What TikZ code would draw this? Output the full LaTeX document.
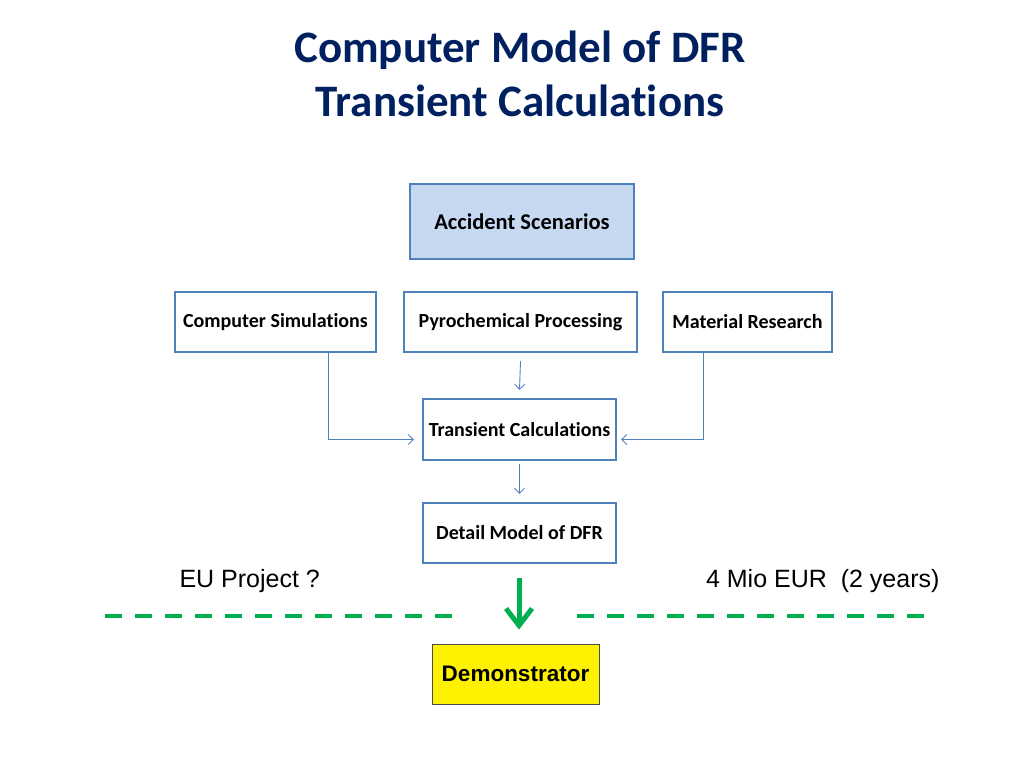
\documentclass[tikz,border=0pt]{standalone}
\usepackage{fontspec}
\setmainfont{Carlito}[Ligatures=NoCommon]
\newfontfamily\arialfont{Liberation Sans}
\usetikzlibrary{positioning, arrows.meta}
\definecolor{titleblue}{HTML}{002060}
\definecolor{boxblue}{HTML}{4F81BD}
\definecolor{boxfill}{HTML}{C6D9F1}
\definecolor{dfrgreen}{HTML}{00B050}
\tikzset{
	x=1pt, y=-1pt,
	>={Straight Barb[length=5pt, width=10pt]},
	block/.style={draw=boxblue, line width=2.2pt, fill=white, inner sep=0pt,
		minimum height=60pt, font=\bfseries\fontsize{20}{22}\selectfont},
	flow/.style={->, draw=boxblue, line width=0.9pt},
	bigflow/.style={-{Straight Barb[length=17pt, width=26pt]}, draw=dfrgreen, line width=5pt},
	gdash/.style={draw=dfrgreen, line width=4pt, dash pattern=on 17pt off 13pt},
	note/.style={font=\arialfont\fontsize{25}{28}\selectfont}}

\begin{document}
\begin{tikzpicture}
		\useasboundingbox (0,0) rectangle (1024,768);
		% title
		\node[text=titleblue, font=\bfseries\fontsize{45}{54}\selectfont, align=center] (title) at (520,74) {Computer Model of DFR\\Transient Calculations};
		
		\node[block, fill=boxfill, minimum width=224pt, minimum height=75pt, font=\bfseries\fontsize{22.5}{24}\selectfont] (scen) at (522,221.5) {Accident Scenarios};
		\node[block, minimum width=201pt] (sim) at (275.5,322) {Computer Simulations};
		\node[block, minimum width=233pt] (pyro) at (520.5,322) {Pyrochemical Processing};
		\node[block, minimum width=169pt] (mat) at (747.5,322) {Material Research};
		\node[block, minimum width=193pt, minimum height=61pt] (trans) at (519.5,429.5) {Transient Calculations};
		\node[block, minimum width=193pt] (detail) at (519.5,533) {Detail Model of DFR};
		\node[draw=black!70, line width=0.8pt, fill=yellow, inner sep=0pt, minimum width=167pt, minimum height=60pt,
			font=\arialfont\bfseries\fontsize{22.5}{26}\selectfont] (demo) at (515.5,674) {Demonstrator};
		
		\node[note, anchor=west] (eu) at (176,581) {EU Project ?};
		\node[note, anchor=east] (cost) at (943,581) {4 Mio EUR\ \ (2 years)};
		
		\draw[flow] ([yshift=-8pt]pyro.south) -- ([yshift=8pt]trans.north);
		\draw[flow] ([xshift=52.5pt]sim.south) |- ([xshift=-8pt,yshift=-10pt]trans.west);
		\draw[flow] ([xshift=-44.5pt]mat.south) |- ([xshift=4pt,yshift=-10pt]trans.east);
		\draw[flow] ([yshift=-3pt]trans.south) -- ([yshift=8pt]detail.north);
		\draw[bigflow] ([yshift=-14pt,xshift=-0.5pt]detail.south) -- ([yshift=14pt,xshift=3.5pt]demo.north);
		
		\draw[gdash] (105,615.5) -- (455,615.5);
		\draw[gdash] (577,615.5) -- (925,615.5);
	\end{tikzpicture}
\end{document}
